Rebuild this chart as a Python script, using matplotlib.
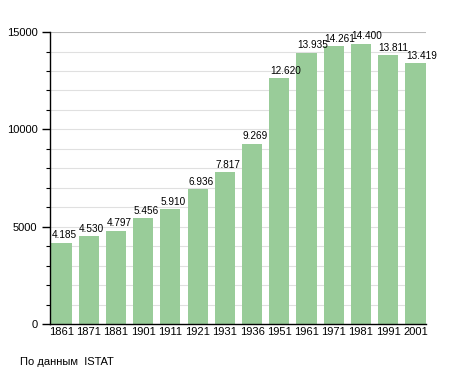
import matplotlib
matplotlib.use("Agg")
import matplotlib.pyplot as plt
import numpy as np

years = ["1861", "1871", "1881", "1901", "1911", "1921", "1931", "1936", "1951", "1961", "1971", "1981", "1991", "2001"]
population = [4185, 4530, 4797, 5456, 5910, 6936, 7817, 9269, 12620, 13935, 14261, 14400, 13811, 13419]
labels = ["4.185", "4.530", "4.797", "5.456", "5.910", "6.936", "7.817", "9.269", "12.620", "13.935", "14.261", "14.400", "13.811", "13.419"]

plt.rcParams['font.family'] = ['Liberation Sans', 'DejaVu Sans']

fig = plt.figure(figsize=(4.55, 3.73), dpi=100)
ax = fig.add_axes([0.11, 0.131, 0.827, 0.783])

x = np.arange(len(years))
w = 0.74
bars = ax.bar(x, population, width=w, color='#99cc99', zorder=2)
for xi, v, lab in zip(x, population, labels):
    ax.text(xi - w / 2 + 0.02, v + 120, lab, ha='left', va='bottom', fontsize=7.2, zorder=3)

ax.set_xlim(-0.42, len(years) - 0.6)
ax.set_ylim(0, 15000)
ax.set_yticks([0, 5000, 10000, 15000])
ax.set_yticks(np.arange(0, 15001, 1000), minor=True)
for yv in range(1000, 15001, 1000):
    ax.axhline(yv, color='#bbbbbb' if yv == 15000 else '#e0e0e0', lw=0.8, zorder=1)
ax.set_xticks(x)
ax.set_xticklabels(years, fontsize=8)
ax.tick_params(axis='x', length=0, pad=2)
ax.tick_params(axis='y', which='major', length=6, width=1, labelsize=8, pad=3)
ax.tick_params(axis='y', which='minor', length=3, width=0.8)
for s in ['top', 'right']:
    ax.spines[s].set_visible(False)
ax.spines['left'].set_linewidth(1)
ax.spines['bottom'].set_linewidth(1)

fig.text(20 / 455, 1 - 362 / 373, "По данным  ISTAT", fontsize=8, va='center', ha='left')

fig.savefig("out.png", dpi=100)
